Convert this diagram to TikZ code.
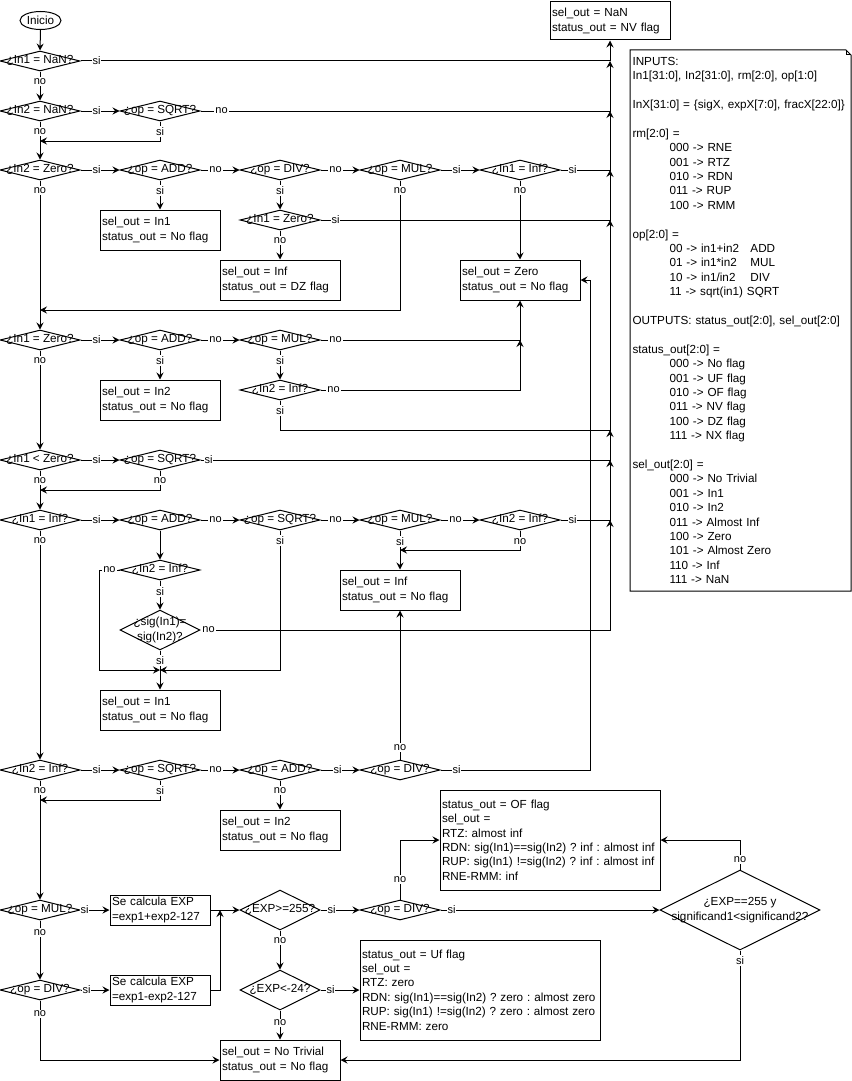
\documentclass[tikz,border=0pt]{standalone}
\usepackage{fontspec}
\setmainfont{Liberation Sans}
\usepackage{tikz}
\usetikzlibrary{shapes.geometric,arrows.meta}
\newcommand{\dtxt}[1]{\makebox[0pt]{\begin{tabular}{@{}c@{}}#1\end{tabular}}}
\newcommand{\notetab}{\hspace*{37pt}}
\frenchspacing
\begin{document}
\begin{tikzpicture}[x=1pt,y=1pt,line width=1pt,font=\fontsize{11.7}{14.4}\selectfont]
\tikzstyle{every node}+=[inner sep=2pt]
\tikzstyle{dec}=[diamond, draw, inner sep=0pt, minimum width=80pt, minimum height=20pt]
\tikzstyle{box}=[rectangle, draw, text width=116pt, minimum height=40pt, align=left]
\tikzstyle{arr}=[-{Stealth[length=7pt,width=7pt,inset=2.5pt]}]
\tikzstyle{lbl}=[fill=white, inner sep=1pt, font=\fontsize{11}{13}\selectfont]
\tikzstyle{rl}=[lbl, pos=0, xshift=16pt]
\tikzstyle{dl}=[lbl, pos=0, yshift=-10pt]
\tikzstyle{ul}=[lbl, pos=0, yshift=10pt]
\useasboundingbox (0,0) rectangle (851,-1081);
\draw (40.5,-20.5) node[ellipse, draw, inner sep=0pt, minimum width=41pt, minimum height=18pt] (ini) {Inicio};
\draw (610,-21) node[box, minimum height=38pt] (nan) {sel\_out = NaN\\status\_out = NV flag};
\draw (40,-61) node[dec] (d1) {\dtxt{¿In1 = NaN?}};
\draw (40,-111) node[dec] (d2) {\dtxt{¿In2 = NaN?}};
\draw (160,-111) node[dec] (d3) {\dtxt{¿op = SQRT?}};
\draw (40,-170) node[dec] (d4) {\dtxt{¿In2 = Zero?}};
\draw (160,-170) node[dec] (d5) {\dtxt{¿op = ADD?}};
\draw (280,-170) node[dec] (d6) {\dtxt{¿op = DIV?}};
\draw (400,-170) node[dec] (d7) {\dtxt{¿op = MUL?}};
\draw (520,-170) node[dec] (d8) {\dtxt{¿In1 = Inf?}};
\draw (280,-220) node[dec] (d9) {\dtxt{¿In1 = Zero?}};
\draw (160,-230) node[box] (b1) {sel\_out = In1\\status\_out = No flag};
\draw (280,-280) node[box] (b2) {sel\_out = Inf\\status\_out = DZ flag};
\draw (520,-280) node[box] (b3) {sel\_out = Zero\\status\_out = No flag};
\draw (40,-340) node[dec] (d10) {\dtxt{¿In1 = Zero?}};
\draw (160,-340) node[dec] (d11) {\dtxt{¿op = ADD?}};
\draw (280,-340) node[dec] (d12) {\dtxt{¿op = MUL?}};
\draw (280,-390) node[dec] (d13) {\dtxt{¿In2 = Inf?}};
\draw (160,-400) node[box] (b4) {sel\_out = In2\\status\_out = No flag};
\draw (40,-460) node[dec] (d14) {\dtxt{¿In1 < Zero?}};
\draw (160,-460) node[dec] (d15) {\dtxt{¿op = SQRT?}};
\draw (40,-520) node[dec] (d16) {\dtxt{¿In1 = Inf?}};
\draw (160,-520) node[dec] (d17) {\dtxt{¿op = ADD?}};
\draw (280,-520) node[dec] (d18) {\dtxt{¿op = SQRT?}};
\draw (400,-520) node[dec] (d19) {\dtxt{¿op = MUL?}};
\draw (520,-520) node[dec] (d20) {\dtxt{¿In2 = Inf?}};
\draw (160,-570) node[dec] (d21) {\dtxt{¿In2 = Inf?}};
\draw (160,-630) node[dec, minimum height=40pt] (d22) {\dtxt{¿sig(In1)=\\sig(In2)?}};
\draw (400,-590) node[box] (b6) {sel\_out = Inf\\status\_out = No flag};
\draw (160,-710) node[box] (b5) {sel\_out = In1\\status\_out = No flag};
\draw (40,-770) node[dec] (d23) {\dtxt{¿In2 = Inf?}};
\draw (160,-770) node[dec] (d24) {\dtxt{¿op = SQRT?}};
\draw (280,-770) node[dec] (d25) {\dtxt{¿op = ADD?}};
\draw (400,-770) node[dec] (d26) {\dtxt{¿op = DIV?}};
\draw (280,-830) node[box] (b7) {sel\_out = In2\\status\_out = No flag};
\draw (550,-840) node[box, text width=216pt, minimum height=100pt] (b9) {status\_out = OF flag\\sel\_out =\\RTZ: almost inf\\\mbox{RDN: sig(In1)==sig(In2) ? inf : almost inf}\\\mbox{RUP: sig(In1) !=sig(In2) ? inf : almost inf}\\RNE-RMM: inf};
\draw (40,-910) node[dec] (d27) {\dtxt{¿op = MUL?}};
\draw (160,-910) node[box, text width=96pt, minimum height=30pt] (b8) {Se calcula EXP\\=exp1+exp2-127};
\draw (280,-910) node[dec, minimum height=40pt] (d28) {\dtxt{¿EXP>=255?}};
\draw (400,-910) node[dec] (d29) {\dtxt{¿op = DIV?}};
\draw (740,-910) node[dec, minimum width=160pt, minimum height=80pt] (d30) {\dtxt{¿EXP==255 y\\significand1<significand2?}};
\draw (40,-990) node[dec] (d31) {\dtxt{¿op = DIV?}};
\draw (160,-990) node[box, text width=96pt, minimum height=30pt] (b10) {Se calcula EXP\\=exp1-exp2-127};
\draw (280,-990) node[dec, minimum height=40pt] (d32) {\dtxt{¿EXP<-24?}};
\draw (480,-990) node[box, text width=236pt, minimum height=100pt] (b11) {status\_out = Uf flag\\sel\_out =\\RTZ: zero\\\mbox{RDN: sig(In1)==sig(In2) ? zero : almost zero}\\\mbox{RUP: sig(In1) !=sig(In2) ? zero : almost zero}\\RNE-RMM: zero};
\draw (280,-1060) node[box] (b12) {sel\_out = No Trivial\\status\_out = No flag};
\draw (630,-50) node[anchor=north west, text width=216pt, minimum height=540pt, align=left] (legend) {INPUTS:\\
In1[31:0], In2[31:0], rm[2:0], op[1:0]\\
\mbox{}\\
\mbox{InX[31:0] = \{sigX, expX[7:0], fracX[22:0]\}}\\
\mbox{}\\
rm[2:0] =\\
\notetab 000 -> RNE\\
\notetab 001 -> RTZ\\
\notetab 010 -> RDN\\
\notetab 011 -> RUP\\
\notetab 100 -> RMM\\
\mbox{}\\
op[2:0] =\\
\notetab\makebox[81pt][l]{00 -> in1+in2}ADD\\
\notetab\makebox[81pt][l]{01 -> in1*in2}MUL\\
\notetab\makebox[81pt][l]{10 -> in1/in2}DIV\\
\notetab 11 -> sqrt(in1) SQRT\\
\mbox{}\\
OUTPUTS: status\_out[2:0], sel\_out[2:0]\\
\mbox{}\\
status\_out[2:0] =\\
\notetab 000 -> No flag\\
\notetab 001 -> UF flag\\
\notetab 010 -> OF flag\\
\notetab 011 -> NV flag\\
\notetab 100 -> DZ flag\\
\notetab 111 -> NX flag\\
\mbox{}\\
sel\_out[2:0] =\\
\notetab 000 -> No Trivial\\
\notetab 001 -> In1\\
\notetab 010 -> In2\\
\notetab 011 -> Almost Inf\\
\notetab 100 -> Zero\\
\notetab 101 -> Almost Zero\\
\notetab 110 -> Inf\\
\notetab 111 -> NaN};
\draw (legend.north west) -- ([xshift=-5pt]legend.north east) -- ([yshift=-5pt]legend.north east) -- (legend.south east) -- (legend.south west) -- cycle;
\draw ([xshift=-5pt]legend.north east) -- ([xshift=-5pt,yshift=-5pt]legend.north east) -- ([yshift=-5pt]legend.north east);
\coordinate (m1) at (40,-141);
\coordinate (m2) at (40,-310);
\coordinate (m3) at (40,-490);
\coordinate (m4) at (40,-800);
\coordinate (m5) at (160,-670);
\coordinate (m6) at (400,-550);
\coordinate (m7) at (220,-910);
\coordinate (j1) at (610,-61);
\coordinate (j2) at (610,-111);
\coordinate (j3) at (610,-170);
\coordinate (j4) at (610,-220);
\coordinate (j5) at (610,-430);
\coordinate (j6) at (610,-460);
\coordinate (j7) at (610,-520);
\coordinate (j8) at (610,-630);
\coordinate (z1) at (520,-340);
\coordinate (z2) at (520,-390);
\coordinate (k1) at (590,-770);
\draw[arr] (ini.south) -- (d1.north);
\draw[arr] (d1.south) -- node[dl]{no} (d2.north);
\draw[arr] (d2.south) -- node[dl]{no} (d4.north);
\draw[arr] (d4.south) -- node[dl]{no} (d10.north);
\draw[arr] (d10.south) -- node[dl]{no} (d14.north);
\draw[arr] (d14.south) -- node[dl]{no} (d16.north);
\draw[arr] (d16.south) -- node[dl]{no} (d23.north);
\draw[arr] (d23.south) -- node[dl]{no} (d27.north);
\draw[arr] (d27.south) -- node[dl,yshift=-2pt]{no} (d31.north);
\draw[arr] (d31.south) |- node[dl,yshift=-3pt]{no} (b12.west);
\draw[arr] (d3.south) |- node[dl]{si} (m1);
\draw[arr] (d7.south) |- node[dl]{no} (m2);
\draw[arr] (d15.south) |- node[dl]{no} (m3);
\draw[arr] (d24.south) |- node[dl]{si} (m4);
\draw[arr] (d1.east) -- node[rl]{si} (j1) -- (nan.south);
\draw[arr] (d3.east) -- node[rl,xshift=5pt]{no} (j2) -- (j1);
\draw[arr] (d8.east) -- node[rl,xshift=-4pt]{si} (j3) -- (j2);
\draw[arr] (d9.east) -- node[rl,xshift=-1pt]{si} (j4) -- (j3);
\draw[arr] (d13.south) |- node[dl]{si} (j5) -- (j4);
\draw[arr] (d15.east) -- node[rl,xshift=-8pt]{si} (j6) -- (j5);
\draw[arr] (d20.east) -- node[rl,xshift=-4pt]{si} (j7) -- (j6);
\draw[arr] (d22.east) -- node[rl,xshift=-8pt]{no} (j8) -- (j7);
\draw[arr] (d2.east) -- node[rl]{si} (d3.west);
\draw[arr] (d4.east) -- node[rl]{si} (d5.west);
\draw[arr] (d5.east) -- node[rl,xshift=-1pt]{no} (d6.west);
\draw[arr] (d6.east) -- node[rl,xshift=-1pt]{no} (d7.west);
\draw[arr] (d7.east) -- node[rl]{si} (d8.west);
\draw[arr] (d5.south) -- node[dl]{si} (b1.north);
\draw[arr] (d6.south) -- node[dl]{si} (d9.north);
\draw[arr] (d9.south) -- node[dl]{no} (b2.north);
\draw[arr] (d8.south) -- node[dl]{no} (b3.north);
\draw[arr] (d10.east) -- node[rl]{si} (d11.west);
\draw[arr] (d11.east) -- node[rl,xshift=-1pt]{no} (d12.west);
\draw[arr] (d11.south) -- node[dl]{si} (b4.north);
\draw[arr] (d12.south) -- node[dl]{si} (d13.north);
\draw[arr] (d12.east) -- node[rl,xshift=-1pt]{no} (z1) -- (b3.south);
\draw[arr] (d13.east) -- node[rl,xshift=-3pt]{no} (z2) -- (z1);
\draw[arr] (d14.east) -- node[rl]{si} (d15.west);
\draw[arr] (d16.east) -- node[rl]{si} (d17.west);
\draw[arr] (d17.east) -- node[rl,xshift=-1pt]{no} (d18.west);
\draw[arr] (d18.east) -- node[rl,xshift=-1pt]{no} (d19.west);
\draw[arr] (d19.east) -- node[rl,xshift=-1pt]{no} (d20.west);
\draw[arr] (d17.south) -- (d21.north);
\draw[arr] (d21.south) -- node[dl,yshift=-1pt]{si} (d22.north);
\draw[arr] (d22.south) -- node[dl]{si} (b5.north);
\draw[arr] (d21.west) -- node[lbl,midway]{no} ++(-20,0) |- (m5);
\draw[arr] (d18.south) |- node[dl]{si} (m5);
\draw[arr] (d19.south) -- node[dl,yshift=-1pt]{si} (b6.north);
\draw[arr] (d20.south) |- node[dl,yshift=-1pt]{no} (m6);
\draw[arr] (d23.east) -- node[rl]{si} (d24.west);
\draw[arr] (d24.east) -- node[rl,xshift=-1pt]{no} (d25.west);
\draw[arr] (d25.east) -- node[rl,xshift=1pt]{si} (d26.west);
\draw[arr] (d25.south) -- node[dl]{no} (b7.north);
\draw[arr] (d26.north) -- node[ul,yshift=2pt]{no} (b6.south);
\draw[arr] (d26.east) -- node[rl]{si} (k1) |- (b3.east);
\draw[arr] (d27.east) -- node[rl,xshift=-12pt]{si} (b8.west);
\draw[arr] (b8.east) -- (d28.west);
\draw[arr] (b10.east) -| (m7);
\draw[arr] (d28.east) -- node[rl,xshift=-5pt]{si} (d29.west);
\draw[arr] (d28.south) -- node[dl]{no} (d32.north);
\draw[arr] (d29.north) |- node[ul,yshift=10pt]{no} (b9.west);
\draw[arr] (d29.east) -- node[rl,xshift=-5pt]{si} (d30.west);
\draw[arr] (d30.north) |- node[ul]{no} (b9.east);
\draw[arr] (d30.south) |- node[dl]{si} (b12.east);
\draw[arr] (d31.east) -- node[rl,xshift=-10pt]{si} (b10.west);
\draw[arr] (d32.east) -- node[rl,xshift=-6pt]{si} (b11.west);
\draw[arr] (d32.south) -- node[dl,yshift=-2pt]{no} (b12.north);
\end{tikzpicture}
\end{document}
